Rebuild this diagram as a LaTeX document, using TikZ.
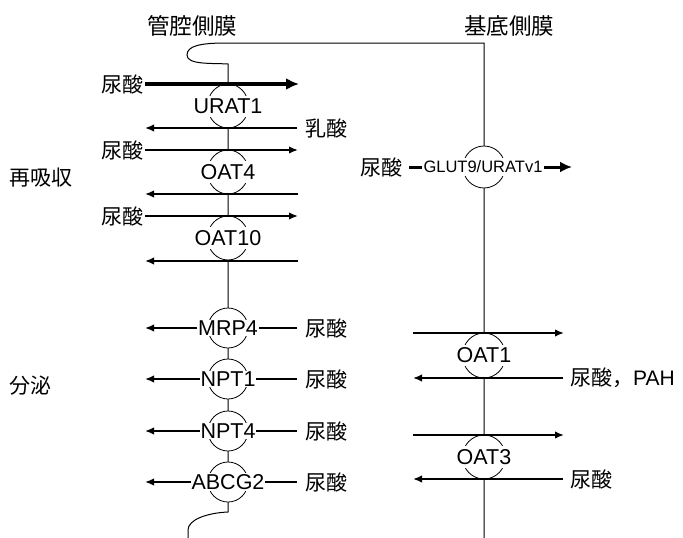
\documentclass[tikz,border=0pt]{standalone}
\usepackage{fontspec}
\setmainfont{Liberation Sans}
\newfontfamily\jp{Noto Sans CJK JP}
\usetikzlibrary{arrows.meta,shapes.geometric}
\begin{document}
\begin{tikzpicture}[x=1pt,y=-1pt,
  every node/.style={font=\fontsize{21.5}{24}\selectfont, inner sep=1pt},
  jl/.style={font=\jp\fontsize{21}{24}\selectfont},
  jh/.style={font=\jp\fontsize{22.5}{26}\selectfont},
  memb/.style={line width=1pt},
  arr/.style={line width=1.6pt,-{Latex[length=9pt,width=7.5pt]}},
  gap/.style={shorten <=7pt},
  bigarr/.style={line width=3.2pt,-{Latex[length=13pt,width=12pt]}},
  garr/.style={line width=3pt,-{Latex[length=12pt,width=11pt]}},
  prot/.style={draw, line width=0.8pt, ellipse, fill=white, minimum width=41pt, minimum height=44pt, inner sep=0pt},
  protb/.style={prot, minimum width=40pt, minimum height=40pt},
  lbl/.style={fill=white, inner xsep=0.8pt, inner ysep=3pt},
  small/.style={font=\fontsize{16.5}{19}\selectfont}
]
\useasboundingbox (0,0) rectangle (683,538);

% headings and side labels
\node[jh] (hl) at (192,26) {管腔側膜};
\node[jh] (hr) at (509,26) {基底側膜};
\node[jl, anchor=west] (re) at (8,178) {再吸収};
\node[jl, anchor=west] (bun) at (8,386) {分泌};

% membranes
\draw[memb] (228,84) -- (228,64) .. controls (212,63) and (187,65) .. (187,55)
  .. controls (187,46) and (200,43) .. (226,43) -- (484,43) -- (484,538);
\draw[memb] (228,84) -- (228,512) .. controls (206,513) and (188,520) .. (188,530) -- (188,538);

% transporter ellipses
\node[prot] (e1) at (228,106) {};
\node[prot] (e2) at (228,172) {};
\node[prot] (e3) at (228,238) {};
\node[protb] (e4) at (228,328) {};
\node[protb] (e5) at (228,379) {};
\node[protb] (e6) at (228,431) {};
\node[protb] (e7) at (228,482) {};
\node[prot, minimum width=42pt, minimum height=42pt] (e8) at (484,167) {};
\node[prot, minimum width=43pt, minimum height=45pt] (e9) at (484,355.5) {};
\node[prot, minimum width=43pt, minimum height=44pt] (e10) at (484,457) {};

% reabsorption (left)
\node[jl, anchor=east] (s1) at (145,84) {尿酸};
\coordinate (s1e) at (299,84);
\draw[bigarr] (s1) -- (s1e);

\node[jl, anchor=west] (lac) at (304,128) {乳酸};
\coordinate (a1l) at (145,128);
\draw[arr, gap] (lac) -- (a1l);

\node[jl, anchor=east] (s2) at (145,150) {尿酸};
\coordinate (s2e) at (298,150);
\draw[arr] (s2) -- (s2e);

\coordinate (a2r) at (298,194);
\coordinate (a2l) at (145,194);
\draw[arr] (a2r) -- (a2l);

\node[jl, anchor=east] (s3) at (145,216) {尿酸};
\coordinate (s3e) at (298,216);
\draw[arr] (s3) -- (s3e);

\coordinate (a3r) at (298,261);
\coordinate (a3l) at (145,261);
\draw[arr] (a3r) -- (a3l);

% secretion (left)
\node[jl, anchor=west] (m1) at (304,328) {尿酸};
\coordinate (m1l) at (145,328);
\draw[arr, gap] (m1) -- (m1l);
\node[jl, anchor=west] (m2) at (304,379) {尿酸};
\coordinate (m2l) at (145,379);
\draw[arr, gap] (m2) -- (m2l);
\node[jl, anchor=west] (m3) at (304,431) {尿酸};
\coordinate (m3l) at (145,431);
\draw[arr, gap] (m3) -- (m3l);
\node[jl, anchor=west] (m4) at (304,482) {尿酸};
\coordinate (m4l) at (145,482);
\draw[arr, gap] (m4) -- (m4l);

% basolateral (right)
\node[jl, anchor=east] (g0) at (404,167) {尿酸};
\coordinate (g1) at (572,167);
\draw[garr, shorten <=5pt] (g0) -- (g1);

\coordinate (o1l) at (413,333);
\coordinate (o1r) at (564,333);
\draw[arr] (o1l) -- (o1r);
\node[jl, anchor=west] (p1) at (569,378) {尿酸，{\normalfont PAH}};
\coordinate (o1b) at (413,378);
\draw[arr, shorten <=6pt] (p1) -- (o1b);

\coordinate (o3l) at (413,435);
\coordinate (o3r) at (564,435);
\draw[arr] (o3l) -- (o3r);
\node[jl, anchor=west] (p3) at (569,479) {尿酸};
\coordinate (o3b) at (413,479);
\draw[arr, shorten <=6pt] (p3) -- (o3b);

% transporter names
\node[lbl] (t1) at (e1) {URAT1};
\node[lbl] (t2) at (e2) {OAT4};
\node[lbl] (t3) at (e3) {OAT10};
\node[lbl, inner ysep=1pt] (t4) at (e4) {MRP4};
\node[lbl, inner ysep=1pt] (t5) at (e5) {NPT1};
\node[lbl, inner ysep=1pt] (t6) at (e6) {NPT4};
\node[lbl, inner ysep=1pt] (t7) at (e7) {ABCG2};
\node[lbl, small, inner xsep=2pt, inner ysep=3pt] (t8) at (483,167) {GLUT9/URATv1};
\node[lbl] (t9) at (e9) {OAT1};
\node[lbl] (t10) at (e10) {OAT3};
\end{tikzpicture}
\end{document}
